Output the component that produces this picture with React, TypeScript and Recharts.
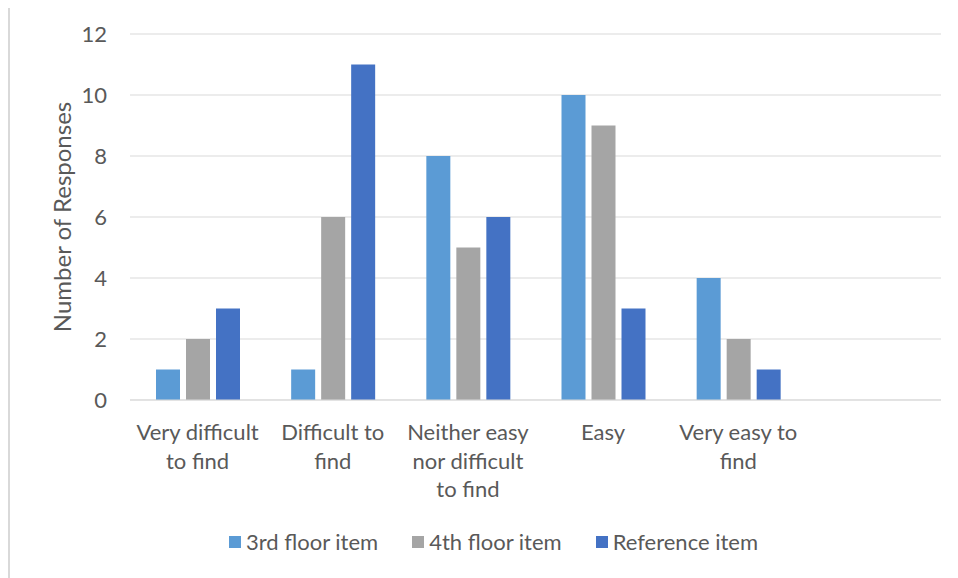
import React from 'react';
import { BarChart, Bar, XAxis, YAxis, CartesianGrid } from 'recharts';

// categories (last slot is empty in the original, keeps the space on the right)
const categories = [
  'Very difficult\nto find',
  'Difficult to\nfind',
  'Neither easy\nnor difficult\nto find',
  'Easy',
  'Very easy to\nfind',
  '',
];

const thirdFloor = [1, 1, 8, 10, 4, null];
const fourthFloor = [2, 6, 5, 9, 2, null];
const referenceItem = [3, 11, 6, 3, 1, null];

const yTicks = [0, 2, 4, 6, 8, 10, 12];

const seriesInfo = [
  { key: 'third', name: '3rd floor item', color: '#5B9BD5' },
  { key: 'fourth', name: '4th floor item', color: '#A5A5A5' },
  { key: 'reference', name: 'Reference item', color: '#4472C4' },
];

const chartData = categories.map((c, i) => ({
  name: c,
  third: thirdFloor[i],
  fourth: fourthFloor[i],
  reference: referenceItem[i],
}));

const FONT = 'Lato, "Open Sans", sans-serif';
const TEXT_COLOR = '#595959';
const FONT_SIZE = 22;

// multi-line category tick
const CategoryTick = (props: any) => {
  const { x, y, payload } = props;
  const lines = String(payload.value).split('\n');
  return (
    <text
      x={x}
      y={y + 40}
      textAnchor="middle"
      fill={TEXT_COLOR}
      fontFamily={FONT}
      fontSize={FONT_SIZE}
    >
      {lines.map((line, i) => (
        <tspan key={i} x={x} dy={i === 0 ? 0 : 28.5}>
          {line}
        </tspan>
      ))}
    </text>
  );
};

const YLabel = (props: any) => {
  const { viewBox } = props;
  const cx = viewBox.x + 51;
  const cy = viewBox.y + viewBox.height / 2;
  return (
    <text
      x={cx}
      y={cy}
      transform={`rotate(-90, ${cx}, ${cy})`}
      textAnchor="middle"
      dominantBaseline="central"
      fill={TEXT_COLOR}
      fontFamily={FONT}
      fontSize={24}
    >
      Number of Responses
    </text>
  );
};

const App = () => {
  return (
    <div
      style={{
        position: 'relative',
        marginTop: -3,
        width: 949,
        height: 572,
        borderTop: '1px solid #d9d9d9',
        borderLeft: '2px solid #d9d9d9',
        background: '#fff',
        overflow: 'hidden',
      }}
    >
      <BarChart
        width={949}
        height={572}
        data={chartData}
        margin={{ top: 28, right: 18, bottom: 0, left: 0 }}
        barSize={24}
        barGap={6}
      >
        <CartesianGrid vertical={false} stroke="#D9D9D9" strokeWidth={1} />
        <XAxis
          dataKey="name"
          height={178}
          interval={0}
          tickLine={false}
          tickSize={0}
          tickMargin={0}
          axisLine={{ stroke: '#D9D9D9' }}
          tick={<CategoryTick />}
        />
        <YAxis
          width={120}
          domain={[0, 12]}
          ticks={yTicks}
          interval={0}
          axisLine={false}
          tickLine={false}
          tickSize={0}
          tickMargin={23}
          tick={{ fill: TEXT_COLOR, fontFamily: FONT, fontSize: FONT_SIZE }}
          label={<YLabel />}
        />
        {seriesInfo.map((s) => (
          <Bar key={s.key} dataKey={s.key} name={s.name} fill={s.color} isAnimationActive={false} />
        ))}
      </BarChart>
      <div
        style={{
          position: 'absolute',
          left: 0,
          top: 522,
          width: 949,
          paddingLeft: 18,
          boxSizing: 'border-box',
          display: 'flex',
          justifyContent: 'center',
          alignItems: 'center',
          gap: 34,
          fontFamily: FONT,
          fontSize: FONT_SIZE,
          color: TEXT_COLOR,
        }}
      >
        {seriesInfo.map((s) => (
          <div key={s.key} style={{ display: 'flex', alignItems: 'center', gap: 5 }}>
            <span style={{ width: 12, height: 12, background: s.color, display: 'inline-block' }} />
            <span>{s.name}</span>
          </div>
        ))}
      </div>
    </div>
  );
};

export default App;
